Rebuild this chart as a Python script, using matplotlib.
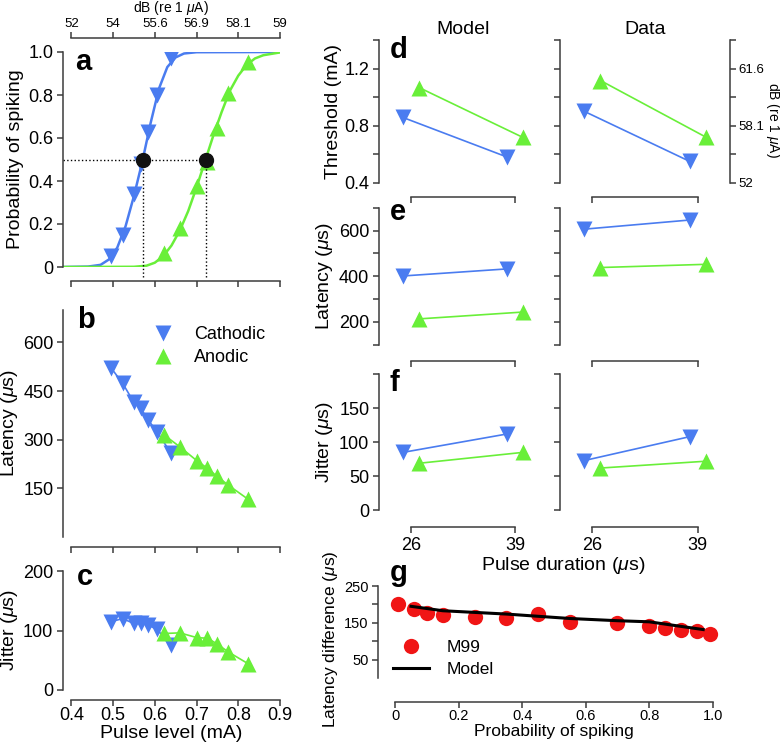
import numpy as np
import matplotlib
matplotlib.use("Agg")
import matplotlib.pyplot as plt
from matplotlib.lines import Line2D

plt.rcParams['font.family'] = ['Liberation Sans', 'DejaVu Sans']
plt.rcParams['mathtext.fontset'] = 'custom'
plt.rcParams['mathtext.rm'] = 'Liberation Sans'
plt.rcParams['mathtext.it'] = 'Liberation Sans:italic'

BLUE = '#4a7cf0'
GREEN = '#69ef39'
RED = '#f01515'
SPINE = '#3c3c3c'

# ---- panels a-c : pulse level (mA) ----
cath_level = [0.496, 0.523, 0.549, 0.566, 0.584, 0.605, 0.638]
cath_prob = [0.05, 0.15, 0.34, 0.48, 0.63, 0.80, 0.97]
cath_latency = [520, 474, 417, 397, 361, 325, 260]
cath_jitter = [115, 120, 112, 113, 109, 102, 76]

anod_level = [0.623, 0.660, 0.701, 0.726, 0.748, 0.776, 0.824]
anod_prob = [0.065, 0.18, 0.375, 0.49, 0.645, 0.81, 0.955]
anod_latency = [314, 278, 235, 212, 188, 160, 116]
anod_jitter = [95, 96, 88, 87, 78, 64, 44]

# fitted curves
cath_fit_level = [0.38, 0.44, 0.47, 0.49, 0.51, 0.53, 0.55, 0.57, 0.59, 0.61, 0.63, 0.65, 0.67, 0.70, 0.90]
cath_fit_prob = [0.0, 0.002, 0.01, 0.035, 0.09, 0.19, 0.33, 0.49, 0.67, 0.83, 0.93, 0.975, 0.993, 0.999, 1.0]
anod_fit_level = [0.38, 0.55, 0.58, 0.60, 0.62, 0.64, 0.66, 0.68, 0.70, 0.72, 0.74, 0.76, 0.78, 0.80, 0.82, 0.84, 0.86, 0.90]
anod_fit_prob = [0.0, 0.001, 0.006, 0.02, 0.05, 0.10, 0.17, 0.26, 0.37, 0.49, 0.61, 0.72, 0.82, 0.89, 0.94, 0.97, 0.985, 0.998]

thr_level = [0.571, 0.722]
thr_prob = 0.5

level_ticks = [0.4, 0.5, 0.6, 0.7, 0.8, 0.9]
level_labels = ['0.4', '0.5', '0.6', '0.7', '0.8', '0.9']
level_db_labels = ['52', '54', '55.6', '56.9', '58.1', '59']
prob_ticks = [0, 0.2, 0.4, 0.6, 0.8, 1.0]
prob_labels = ['0', '0.2', '0.4', '0.6', '0.8', '1.0']
lat_ticks = [150, 300, 450, 600]
jit_ticks = [0, 100, 200]

# ---- panels d-f : pulse duration (us) ----
durations = [26, 39]
model_thr_cath = [0.857, 0.58]
model_thr_anod = [1.067, 0.717]
data_thr_cath = [0.90, 0.55]
data_thr_anod = [1.116, 0.72]
model_lat_cath = [401, 432]
model_lat_anod = [213, 243]
data_lat_cath = [606, 646]
data_lat_anod = [438, 452]
model_jit_cath = [85, 112]
model_jit_anod = [69, 85]
data_jit_cath = [73, 108]
data_jit_anod = [62, 72]

thr_ticks = [0.4, 0.6, 0.8, 1.0, 1.2, 1.4]
thr_labels = ['0.4', '', '0.8', '', '1.2', '']
thr_db_labels = ['52', '', '58.1', '', '61.6', '']
dlat_ticks = [100, 200, 300, 400, 500, 600, 700]
dlat_labels = ['', '200', '', '400', '', '600', '']
djit_ticks = [0, 50, 100, 150, 200]
djit_labels = ['0', '50', '100', '150', '']

# ---- panel g ----
m99_prob = [0.01, 0.06, 0.10, 0.15, 0.25, 0.35, 0.45, 0.55, 0.70, 0.80, 0.85, 0.90, 0.95, 0.99]
m99_diff = [201, 187, 178, 171, 165, 164, 174, 153, 150, 142, 136, 132, 127, 121]
model_prob = [0.05, 0.15, 0.35, 0.55, 0.70, 0.80, 0.97]
model_diff = [195, 183, 174, 162, 156, 153, 132]
g_yticks = [50, 100, 150, 200, 250]
g_ylabels = ['50', '', '150', '', '250']

W, H = 780, 745
fig = plt.figure(figsize=(W / 100, H / 100), dpi=100)


def px_axes(left, top, right, bottom):
    return fig.add_axes([left / W, 1 - bottom / H, (right - left) / W, (bottom - top) / H])


def tidy(ax, xbounds, drop, labelsize=13):
    ax.spines['top'].set_visible(False)
    ax.spines['right'].set_visible(False)
    ax.spines['bottom'].set_position(('outward', drop))
    ax.spines['bottom'].set_bounds(*xbounds)
    for s in ('left', 'bottom'):
        ax.spines[s].set_color(SPINE)
        ax.spines[s].set_linewidth(1.1)
    ax.tick_params(color=SPINE, length=4, width=1.1, labelsize=labelsize, pad=3)
    ax.patch.set_alpha(0)


MS = 12

# ================= a =================
axA = px_axes(63, 52, 280, 267)
axA.set_xlim(0.38, 0.9)
axA.set_ylim(0, 1)
axA.plot(cath_fit_level, cath_fit_prob, color=BLUE, lw=1.8)
axA.plot(anod_fit_level, anod_fit_prob, color=GREEN, lw=1.8)
axA.plot(cath_level, cath_prob, 'v', color=BLUE, ms=MS, mec='none')
axA.plot(anod_level, anod_prob, '^', color=GREEN, ms=MS, mec='none')
axA.hlines(thr_prob, axA.get_xlim()[0], max(thr_level), colors='k', linestyles=':', lw=1)
axA.vlines(thr_level, -0.047, thr_prob, colors='k', linestyles=':', lw=1, clip_on=False)
axA.plot(thr_level, [thr_prob] * len(thr_level), 'o', color='#111111', ms=10, zorder=5)
tidy(axA, (0.4, 0.9), 10)
axA.set_xticks(level_ticks)
axA.set_xticklabels([])
axA.set_yticks(prob_ticks)
axA.set_yticklabels(prob_labels)
axA.set_ylabel('Probability of spiking', fontsize=14)
axA.yaxis.set_label_coords(-0.18, 0.5)

axT = axA.twiny()
axT.set_xlim(axA.get_xlim())
for s in ('left', 'right', 'bottom'):
    axT.spines[s].set_visible(False)
axT.spines['top'].set_position(('outward', 10))
axT.spines['top'].set_bounds(0.4, 0.9)
axT.spines['top'].set_color(SPINE)
axT.spines['top'].set_linewidth(1.1)
axT.set_xticks(level_ticks)
axT.set_xticklabels(level_db_labels)
axT.tick_params(color=SPINE, length=4, width=1.1, labelsize=9.5, pad=2)
fig.text(171 / W, 1 - 8 / H, 'dB (re 1 $\\mu$A)', ha='center', va='center', fontsize=10)

# ================= b =================
axB = px_axes(63, 310, 280, 537)
axB.set_xlim(0.38, 0.9)
axB.set_ylim(0, 700)
axB.plot(cath_level, cath_latency, color=BLUE, lw=1.2)
axB.plot(cath_level, cath_latency, 'v', color=BLUE, ms=MS, mec='none')
axB.plot(anod_level, anod_latency, color=GREEN, lw=1.2)
axB.plot(anod_level, anod_latency, '^', color=GREEN, ms=MS, mec='none')
tidy(axB, (0.4, 0.9), 7)
axB.set_xticks(level_ticks)
axB.set_xticklabels([])
axB.set_yticks(lat_ticks)
axB.set_ylabel('Latency ($\\mu$s)', fontsize=14)
axB.yaxis.set_label_coords(-0.198, 0.5)
handles = [Line2D([], [], ls='none', marker='v', color=BLUE, ms=MS, mec='none'),
           Line2D([], [], ls='none', marker='^', color=GREEN, ms=MS, mec='none')]
axB.legend(handles, ['Cathodic', 'Anodic'], frameon=False, loc='upper left',
           bbox_to_anchor=(0.42, 0.93), fontsize=13, handlelength=1.0,
           handletextpad=1.2, labelspacing=0.35, borderpad=0, borderaxespad=0)

# ================= c =================
axC = px_axes(63, 571, 280, 690)
axC.set_xlim(0.38, 0.9)
axC.set_ylim(0, 200)
axC.plot(cath_level, cath_jitter, color=BLUE, lw=1.2)
axC.plot(cath_level, cath_jitter, 'v', color=BLUE, ms=MS, mec='none')
axC.plot(anod_level, anod_jitter, color=GREEN, lw=1.2)
axC.plot(anod_level, anod_jitter, '^', color=GREEN, ms=MS, mec='none')
tidy(axC, (0.4, 0.9), 7)
axC.tick_params(axis='x', pad=1.5)
axC.set_xticks(level_ticks)
axC.set_xticklabels(level_labels)
axC.set_yticks(jit_ticks)
axC.set_xlabel('Pulse level (mA)', fontsize=14)
axC.xaxis.set_label_coords(0.5, -0.29)
axC.set_ylabel('Jitter ($\\mu$s)', fontsize=14)
axC.yaxis.set_label_coords(-0.198, 0.5)

# ================= d, e, f =================
DODGE = 1.0
x_cath = np.array(durations) - DODGE
x_anod = np.array(durations) + DODGE

rows = [
    ((40, 182.7), (0.4, 1.4), thr_ticks, thr_labels, 'Threshold (mA)', 10,
     (model_thr_cath, model_thr_anod), (data_thr_cath, data_thr_anod)),
    ((207.7, 344.7), (100, 700), dlat_ticks, dlat_labels, 'Latency ($\\mu$s)', 12,
     (model_lat_cath, model_lat_anod), (data_lat_cath, data_lat_anod)),
    ((374, 510.3), (0, 200), djit_ticks, djit_labels, 'Jitter ($\\mu$s)', 12,
     (model_jit_cath, model_jit_anod), (data_jit_cath, data_jit_anod)),
]
cols = [(379, 547), (560, 730)]
grid = []
for r, (yr, ylim, yt, yl, ylab, drop, mvals, dvals) in enumerate(rows):
    row_axes = []
    for c, (xl, xr) in enumerate(cols):
        ax = px_axes(xl, yr[0], xr, yr[1])
        vals = mvals if c == 0 else dvals
        ax.plot(x_cath, vals[0], color=BLUE, lw=1.2)
        ax.plot(x_anod, vals[1], color=GREEN, lw=1.2)
        ax.plot(x_cath, vals[0], 'v', color=BLUE, ms=MS, mec='none')
        ax.plot(x_anod, vals[1], '^', color=GREEN, ms=MS, mec='none')
        ax.set_xlim(22, 43)
        ax.set_ylim(*ylim)
        tidy(ax, (26, 39), drop)
        ax.set_xticks(durations)
        ax.set_yticks(yt)
        if r == 2:
            ax.set_xticklabels([str(d) for d in durations])
        else:
            ax.set_xticklabels([])
        if c == 0:
            ax.set_yticklabels(yl)
            ax.set_ylabel(ylab, fontsize=14)
            ax.yaxis.set_label_coords(-0.22 if r == 0 else -0.262, 0.5)
        else:
            ax.set_yticklabels([])
        row_axes.append(ax)
    grid.append(row_axes)

axR = grid[0][1].twinx()
axR.set_ylim(grid[0][1].get_ylim())
for s in ('left', 'top', 'bottom'):
    axR.spines[s].set_visible(False)
axR.spines['right'].set_color(SPINE)
axR.spines['right'].set_linewidth(1.1)
axR.set_yticks(thr_ticks)
axR.set_yticklabels(thr_db_labels)
axR.tick_params(color=SPINE, length=4, width=1.1, labelsize=9.5, pad=2)
axR.set_ylabel('dB (re 1 $\\mu$A)', fontsize=10, rotation=270, va='center')
axR.yaxis.set_label_coords(1.25, 0.44)

fig.text(463 / W, 1 - 30 / H, 'Model', ha='center', va='center', fontsize=14)
fig.text(645 / W, 1 - 30 / H, 'Data', ha='center', va='center', fontsize=14)
fig.text(563 / W, 1 - 565 / H, 'Pulse duration ($\\mu$s)', ha='center', va='center', fontsize=14)

# ================= g =================
axG = px_axes(378.3, 586, 728.6, 678.3)
axG.set_xlim(-0.053, 1.05)
axG.set_ylim(0, 250)
axG.plot(m99_prob, m99_diff, 'o', color=RED, ms=11, mec='none', label='M99')
axG.plot(model_prob, model_diff, color='k', lw=2.2, label='Model')
tidy(axG, (0, 1), 17, labelsize=10.5)
axG.tick_params(axis='x', pad=1)
axG.set_xticks(prob_ticks)
axG.set_xticklabels(prob_labels)
axG.set_yticks(g_yticks)
axG.set_yticklabels(g_ylabels)
axG.set_xlabel('Probability of spiking', fontsize=12.5)
axG.xaxis.set_label_coords(0.5, -0.5)
axG.set_ylabel('Latency difference ($\\mu$s)', fontsize=12.5)
axG.yaxis.set_label_coords(-0.108, 0.42)
axG.legend(frameon=False, loc='upper left', bbox_to_anchor=(0.042, 0.42), fontsize=12.5,
           handlelength=2.1, handletextpad=1.0, labelspacing=0.4, borderpad=0, borderaxespad=0)

# panel letters
for letter, x, y in [('a', 75, 70), ('b', 77, 328), ('c', 77, 585),
                     ('d', 390, 58), ('e', 390, 220), ('f', 390, 391), ('g', 390, 581)]:
    fig.text(x / W, 1 - y / H, letter, ha='left', va='baseline', fontsize=21, fontweight='bold')

fig.savefig('out.png', dpi=100)
